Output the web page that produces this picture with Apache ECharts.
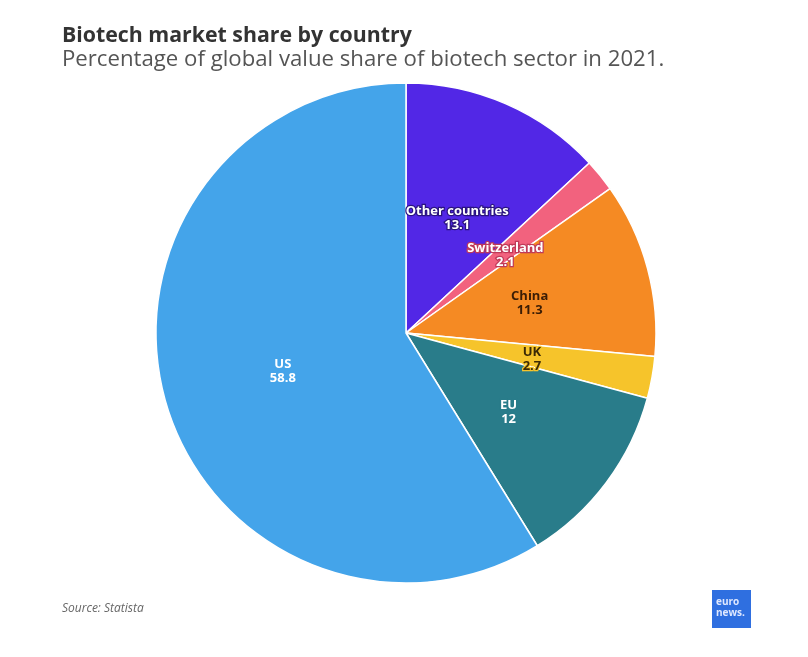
<!DOCTYPE html>
<html><head><meta charset="utf-8">
<script src="https://cdn.jsdelivr.net/npm/echarts@6/dist/echarts.min.js"></script>
<style>html,body{margin:0;padding:0;background:#fff}#c{width:808px;height:657px}</style>
</head><body><div id="c"></div>
<script>
const categories = ["Other countries", "Switzerland", "China", "UK", "EU", "US"];
const values = [13.1, 2.1, 11.3, 2.7, 12, 58.8];
const colors = ["#5227e6", "#f2627e", "#f58a23", "#f6c42b", "#297c8a", "#44a4ea"];
const labelColors = ["#ffffff", "#ffffff", "#3b1d05", "#3b2a05", "#ffffff", "#ffffff"];
const labelBorders = ["#2a1380", "#c03a58", "#f58a23", "#f6c42b", "#297c8a", "#44a4ea"];

const chart = echarts.init(document.getElementById('c'), null, {renderer: 'canvas'});
chart.setOption({
  animation: false,
  title: [
    {text: 'Biotech market share by country', left: 62, top: 25, padding: 0,
     textStyle: {fontFamily: 'Open Sans', fontWeight: 'bold', fontSize: 21.3, color: '#333'}},
    {text: 'Percentage of global value share of biotech sector in 2021.', left: 62, top: 49, padding: 0,
     textStyle: {fontFamily: 'Open Sans', fontWeight: 'normal', fontSize: 22.2, color: '#555'}},
    {text: 'Source: Statista', left: 62, top: 603, padding: 0,
     textStyle: {fontFamily: 'Open Sans', fontStyle: 'italic', fontWeight: 'normal', fontSize: 12, color: '#666'}}
  ],
  graphic: [
    {type: 'rect', shape: {x: 712, y: 590, width: 39, height: 38}, style: {fill: '#2f6fe0'}},
    {type: 'text', left: 716, top: 597, style: {text: 'euro\nnews.', fill: '#dfe8ff', font: 'bold 10px "Open Sans"', lineHeight: 11}}
  ],
  series: [{
    type: 'pie',
    center: [406, 333],
    radius: [0, 250],
    startAngle: 90,
    clockwise: true,
    itemStyle: {borderColor: '#fff', borderWidth: 1.5},
    label: {position: 'inside', fontFamily: 'Open Sans', fontWeight: 'bold', fontSize: 13, lineHeight: 14,
            offset: [0, 3],
            formatter: p => p.name + '\n' + p.value, textBorderWidth: 2.5},
    labelLine: {show: false},
    data: categories.map((c, i) => ({
      name: c, value: values[i],
      itemStyle: {color: colors[i]},
      label: {color: labelColors[i], textBorderColor: labelBorders[i]}
    }))
  }]
});
</script></body></html>
